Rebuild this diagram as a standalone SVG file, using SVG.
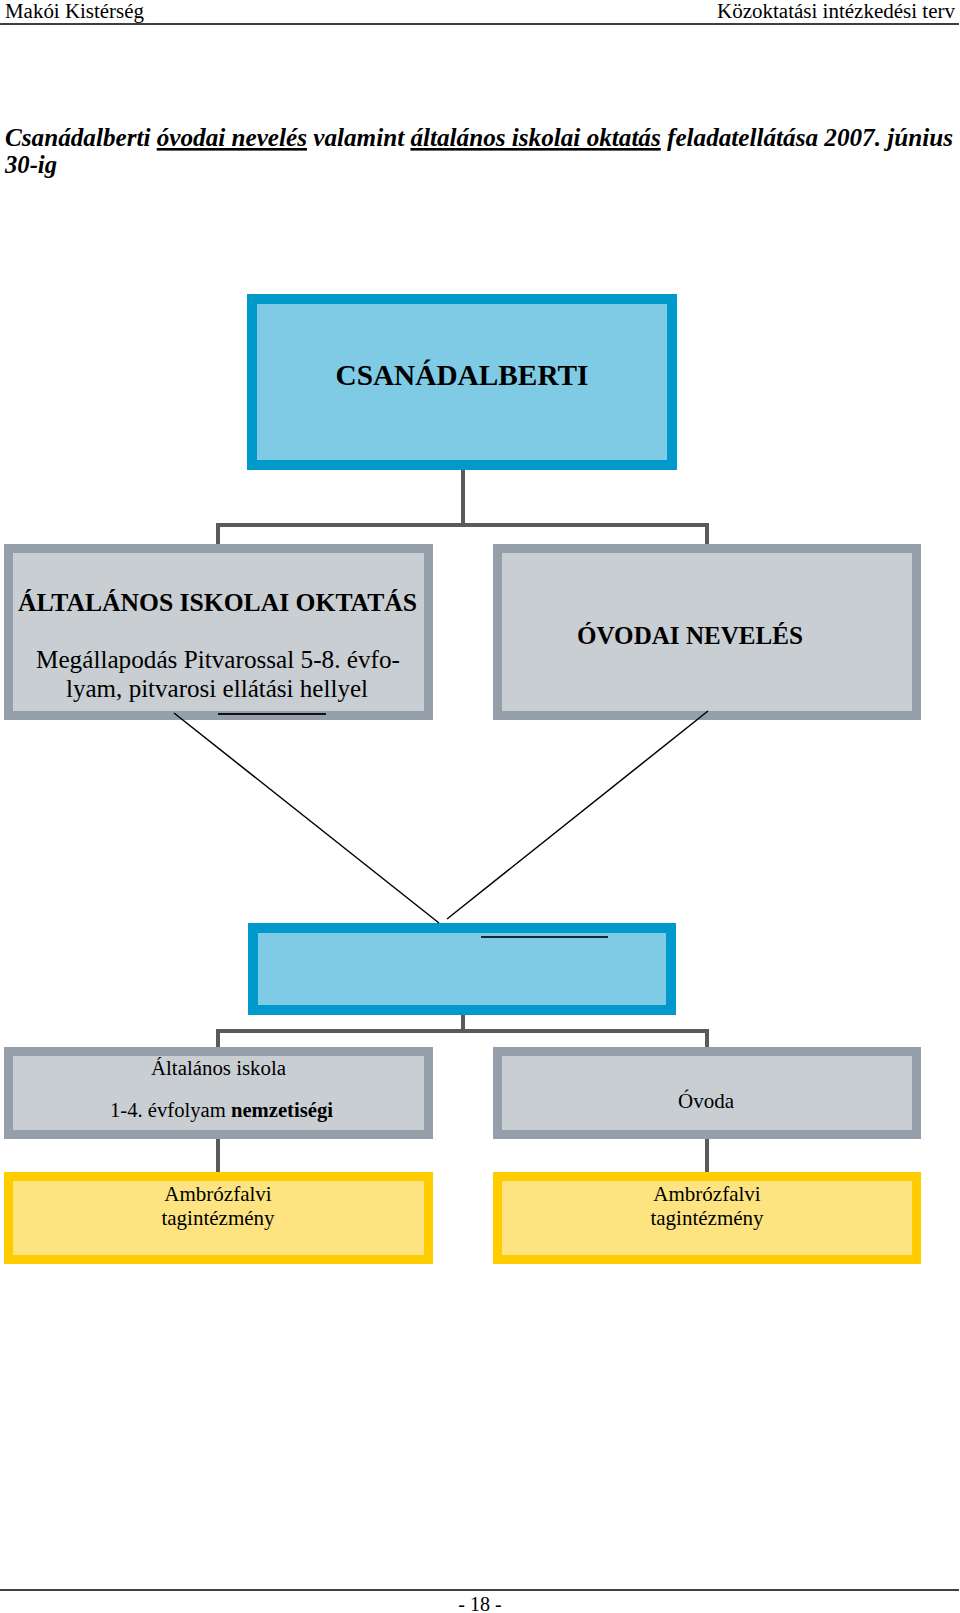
<svg xmlns="http://www.w3.org/2000/svg" width="960" height="1613" viewBox="0 0 960 1613">
<style>
.t{font-family:"Liberation Serif","Times New Roman",serif;fill:#000}
.b{font-weight:bold}
.blue{fill:#7FCBE5;stroke:#0099CC;stroke-width:10}
.gray{fill:#C9CED3;stroke:#959FAA;stroke-width:9}
.yel{fill:#FDE480;stroke:#FFCC00;stroke-width:9}
.con{stroke:#5A5A5A;stroke-width:4;fill:none}
.diag{stroke:#000;stroke-width:1.5;fill:none}
</style>
<rect width="960" height="1613" fill="#fff"/>
<g id="header">
<text class="t" x="5" y="18" font-size="20" textLength="139" lengthAdjust="spacingAndGlyphs">Makói Kistérség</text>
<text class="t" x="955" y="18" font-size="20" text-anchor="end" textLength="238" lengthAdjust="spacingAndGlyphs">Közoktatási intézkedési terv</text>
<line x1="0" y1="24" x2="959" y2="24" stroke="#000" stroke-width="1.5"/>
</g>
<g id="title">
<text class="t b" x="5" y="146" font-size="26" font-style="italic" textLength="948" lengthAdjust="spacingAndGlyphs">Csanádalberti <tspan text-decoration="underline">óvodai nevelés</tspan> valamint <tspan text-decoration="underline">általános iskolai oktatás</tspan> feladatellátása 2007. június</text>
<text class="t b" x="5" y="173" font-size="26" font-style="italic" textLength="52" lengthAdjust="spacingAndGlyphs">30-ig</text>
</g>
<g id="csanadalberti">
<rect class="blue" x="252" y="299" width="420" height="166"/>
<text class="t b" x="462" y="385" font-size="29" text-anchor="middle" textLength="253" lengthAdjust="spacingAndGlyphs">CSANÁDALBERTI</text>
</g>
<g id="altalanos-iskolai-oktatas">
<rect class="gray" x="8.5" y="548.5" width="420" height="167"/>
<text class="t b" x="217.5" y="611" font-size="25" text-anchor="middle" textLength="399" lengthAdjust="spacingAndGlyphs">ÁLTALÁNOS ISKOLAI OKTATÁS</text>
<text class="t" x="218" y="668" font-size="25" text-anchor="middle" textLength="364" lengthAdjust="spacingAndGlyphs">Megállapodás Pitvarossal 5-8. évfo-</text>
<text class="t" x="217" y="697" font-size="25" text-anchor="middle" textLength="302" lengthAdjust="spacingAndGlyphs">lyam, pitvarosi ellátási hellyel</text>
<line x1="218" y1="714" x2="326" y2="714" stroke="#111" stroke-width="2"/>
</g>
<g id="ovodai-neveles">
<rect class="gray" x="497.5" y="548.5" width="419" height="167"/>
<text class="t b" x="690" y="644" font-size="25" text-anchor="middle" textLength="226" lengthAdjust="spacingAndGlyphs">ÓVODAI NEVELÉS</text>
</g>
<g id="middle-box">
<rect class="blue" x="253" y="928" width="418" height="82"/>
<line x1="481" y1="937" x2="608" y2="937" stroke="#15263A" stroke-width="2"/>
</g>
<g id="altalanos-iskola">
<rect class="gray" x="8.5" y="1051.5" width="420" height="83"/>
<text class="t" x="218.5" y="1075" font-size="20" text-anchor="middle" textLength="135" lengthAdjust="spacingAndGlyphs">Általános iskola</text>
<text class="t" x="221.5" y="1117" font-size="20" text-anchor="middle" textLength="223" lengthAdjust="spacingAndGlyphs">1-4. évfolyam <tspan class="b">nemzetiségi</tspan></text>
</g>
<g id="ovoda">
<rect class="gray" x="497.5" y="1051.5" width="419" height="83"/>
<text class="t" x="706" y="1108" font-size="21" text-anchor="middle">Óvoda</text>
</g>
<g id="ambrozfalvi-iskola">
<rect class="yel" x="8.5" y="1176.5" width="420" height="83"/>
<text class="t" x="218" y="1201" font-size="21" text-anchor="middle">Ambrózfalvi</text>
<text class="t" x="218" y="1225" font-size="21" text-anchor="middle">tagintézmény</text>
</g>
<g id="ambrozfalvi-ovoda">
<rect class="yel" x="497.5" y="1176.5" width="419" height="83"/>
<text class="t" x="707" y="1201" font-size="21" text-anchor="middle">Ambrózfalvi</text>
<text class="t" x="707" y="1225" font-size="21" text-anchor="middle">tagintézmény</text>
</g>
<g id="connectors">
<path class="con" d="M463 470V525M218 525H707M218 523V544M707 523V544"/>
<path class="con" d="M463 1015V1031M218 1031H707M218 1029V1047M707 1029V1047"/>
<path class="con" d="M218 1139V1172M707 1139V1172"/>
<line class="diag" x1="174" y1="713" x2="439" y2="923"/>
<line class="diag" x1="708" y1="711" x2="447" y2="919"/>
</g>
<g id="footer">
<line x1="0" y1="1590" x2="959" y2="1590" stroke="#000" stroke-width="1.5"/>
<text class="t" x="480" y="1611" font-size="20" text-anchor="middle">- 18 -</text>
</g>
</svg>
